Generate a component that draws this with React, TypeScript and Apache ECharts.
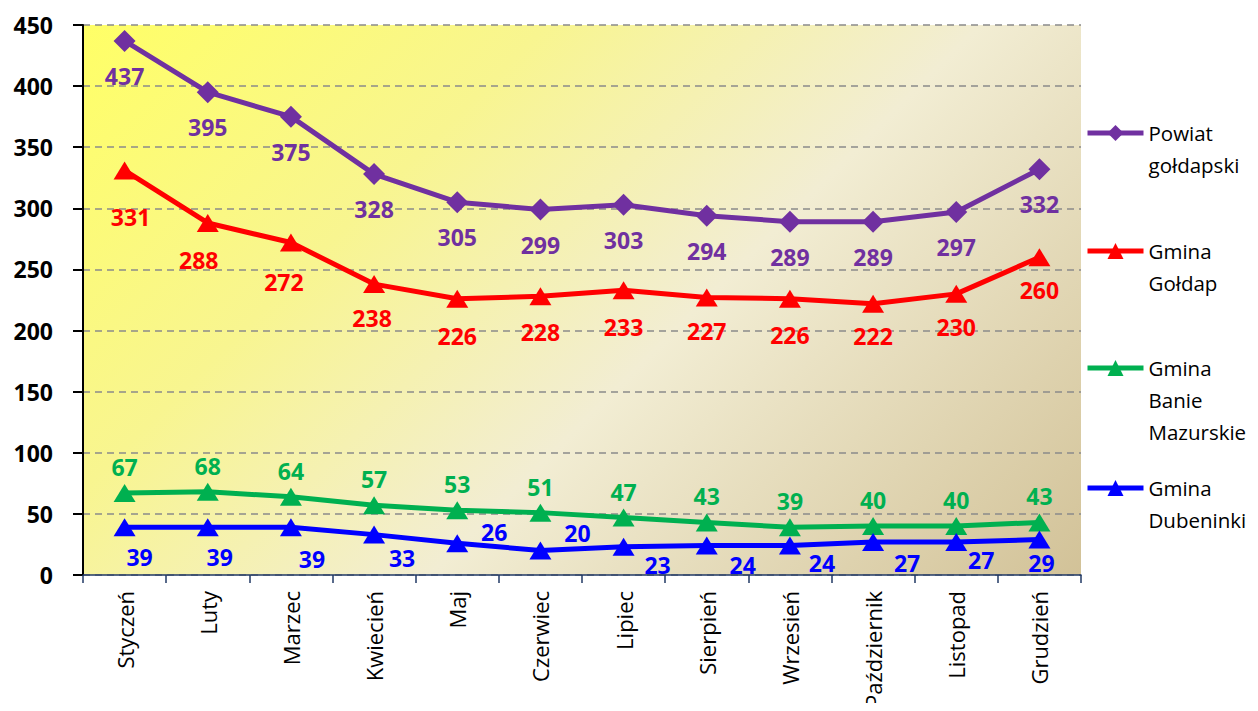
import React, { useEffect, useRef } from "react";
import * as echarts from "echarts";

const months = ["Styczeń", "Luty", "Marzec", "Kwiecień", "Maj", "Czerwiec", "Lipiec", "Sierpień", "Wrzesień", "Październik", "Listopad", "Grudzień"];
const yTicks = { min: 0, max: 450, interval: 50 };

const powiat = [437, 395, 375, 328, 305, 299, 303, 294, 289, 289, 297, 332];
const goldap = [331, 288, 272, 238, 226, 228, 233, 227, 226, 222, 230, 260];
const banie = [67, 68, 64, 57, 53, 51, 47, 43, 39, 40, 40, 43];
const dubeninki = [39, 39, 39, 33, 26, 20, 23, 24, 24, 27, 27, 29];

const names = ["Powiat\ngołdapski", "Gmina\nGołdap", "Gmina\nBanie\nMazurskie", "Gmina\nDubeninki"];

// label placement (styling, not data)
const redLabelOffsets = [[6, 47], [-9, 37], [-7, 39], [-2, 34], [0, 37], [0, 36], [0, 37], [0, 33], [0, 36], [0, 32], [0, 33], [0, 33]];
const blueLabelOffsets = [[15, 30], [12, 30], [21, 32], [28, 23], [37, -11], [37, -18], [34, 18], [36, 19], [32, 17], [34, 21], [25, 18], [2, 23]];

const FONT = "'Open Sans', 'Noto Sans', sans-serif";
const GRID = { left: 83, right: 177, top: 25, bottom: 136 };
const W = 1258;
const H = 711;

export default function App() {
  const ref = useRef<HTMLDivElement>(null);
  useEffect(() => {
    if (!ref.current) return;
    const chart = echarts.init(ref.current, null, { renderer: "svg" });
    const labelBase = (color: string) => ({
      show: true,
      position: "inside",
      align: "center",
      verticalAlign: "middle",
      color,
      fontFamily: FONT,
      fontWeight: "bold",
      fontSize: 23,
    });
    const mk = (
      name: string,
      values: number[],
      color: string,
      symbol: string,
      symbolSize: number | number[],
      offsets: number[][] | ((i: number) => number[])
    ) => ({
      type: "line",
      name,
      symbol,
      symbolSize,
      lineStyle: { color, width: 5 },
      itemStyle: { color },
      z: 3,
      data: values.map((v, i) => ({
        value: v,
        label: { ...labelBase(color), offset: typeof offsets === "function" ? offsets(i) : offsets[i] },
      })),
    });
    const legendTops = [85, 203, 288, 440];
    // gradient at 45 degrees across the plot area
    const pw = W - GRID.left - GRID.right;
    const ph = H - GRID.top - GRID.bottom;
    const d = (pw + ph) / 2;
    const option: any = {
      animation: false,
      backgroundColor: "#fff",
      grid: {
        ...GRID,
        show: true,
        borderWidth: 0,
        backgroundColor: {
          type: "linear",
          global: true,
          x: GRID.left,
          y: GRID.top,
          x2: GRID.left + d,
          y2: GRID.top + d,
          colorStops: [
            { offset: 0, color: "#FFFF66" },
            { offset: 0.3, color: "#F8F590" },
            { offset: 0.58, color: "#F2EDD3" },
            { offset: 1, color: "#D2C298" },
          ],
        },
      },
      legend: names.map((n, i) => ({
        data: [n],
        orient: "vertical",
        left: 1085,
        top: legendTops[i],
        padding: 0,
        itemWidth: 56,
        itemHeight: 20,
        itemGap: 0,
        lineStyle: { width: 5 },
        formatter: (name: string) => {
          const m = name.split("\n").length;
          return " \n".repeat(m - 1) + name;
        },
        textStyle: {
          color: "#000",
          fontFamily: FONT,
          fontSize: 20.5,
          lineHeight: 32,
        },
      })),
      xAxis: {
        type: "category",
        data: months,
        boundaryGap: true,
        axisLine: { show: true, lineStyle: { color: "#203864", width: 1.5 } },
        axisTick: { show: true, length: 8, lineStyle: { color: "#203864", width: 1.5 } },
        axisLabel: {
          interval: 0,
          rotate: 90,
          margin: 16,
          color: "#000",
          fontFamily: FONT,
          fontSize: 22,
        },
        splitLine: { show: false },
      },
      yAxis: {
        type: "value",
        min: yTicks.min,
        max: yTicks.max,
        interval: yTicks.interval,
        axisLine: { show: true, lineStyle: { color: "#000", width: 2 } },
        axisTick: { show: true, length: 10, lineStyle: { color: "#000", width: 2 } },
        axisLabel: {
          margin: 30,
          color: "#000",
          fontFamily: FONT,
          fontWeight: "bold",
          fontSize: 23,
        },
        splitLine: { show: true, lineStyle: { color: "#8A8A8A", width: 1.5, type: [7, 5] } },
      },
      series: [
        mk(names[0], powiat, "#7030A0", "diamond", 22, () => [0, 35]),
        mk(names[1], goldap, "#FF0000", "triangle", [22, 18], redLabelOffsets),
        mk(names[2], banie, "#00B050", "triangle", [22, 18], () => [0, -26]),
        mk(names[3], dubeninki, "#0000FF", "triangle", [22, 18], blueLabelOffsets),
      ],
    };
    chart.setOption(option);
    return () => chart.dispose();
  }, []);
  return <div ref={ref} style={{ width: W, height: H, margin: -8 }} />;
}
